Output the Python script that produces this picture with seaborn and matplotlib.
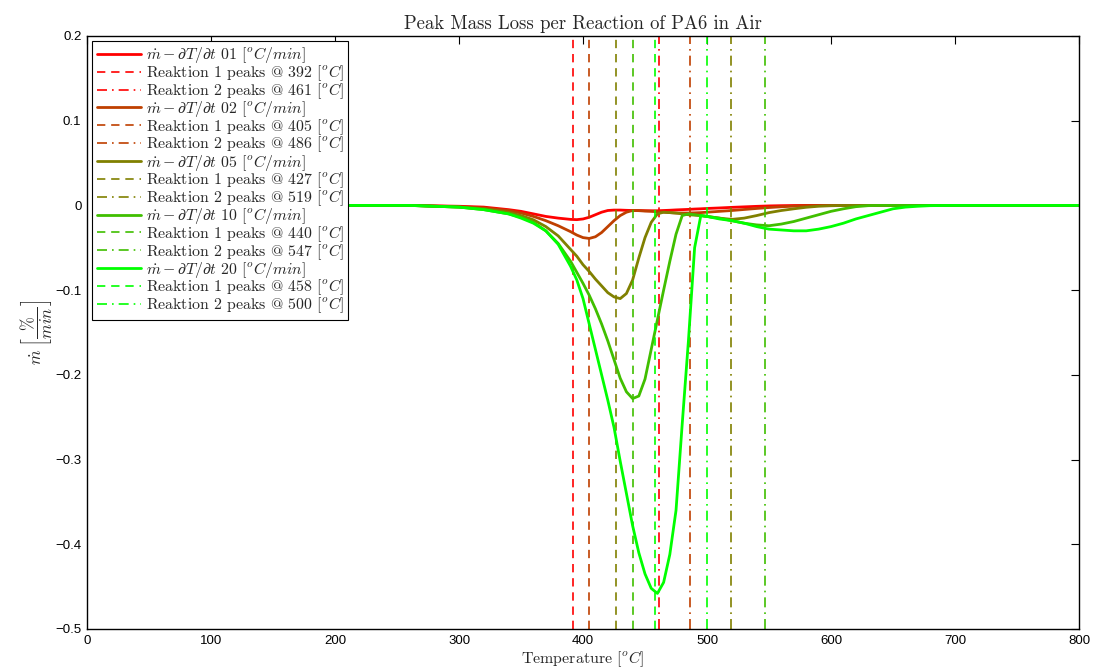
import matplotlib
matplotlib.use("Agg")
import matplotlib.pyplot as plt
from matplotlib.ticker import FuncFormatter, MultipleLocator
import seaborn as sns
import pandas as pd

# temperature grid [oC]
temperature = [200, 260, 300, 320, 340, 350, 360, 370, 380, 390, 395, 400, 405, 410, 415,
               420, 425, 430, 435, 440, 445, 450, 455, 460, 465, 470, 475, 480, 485, 490,
               495, 500, 510, 520, 530, 540, 550, 560, 570, 580, 590, 600, 610, 620, 630,
               640, 650, 660, 670, 680, 700, 750, 800]

# mass loss rate [%/min] per heating rate
rate_01 = [0, 0, -0.001, -0.002, -0.005, -0.007, -0.010, -0.013, -0.015, -0.0165, -0.0168,
           -0.016, -0.014, -0.011, -0.008, -0.006, -0.0055, -0.0055, -0.0058, -0.006, -0.006,
           -0.0062, -0.0063, -0.0063, -0.006, -0.0057, -0.0053, -0.005, -0.0047, -0.0043,
           -0.004, -0.0036, -0.003, -0.0023, -0.0017, -0.0011, -0.0006, -0.0003, -0.0001,
           0, 0, 0, 0, 0, 0, 0, 0, 0, 0, 0, 0, 0, 0]
rate_02 = [0, 0, -0.0015, -0.003, -0.006, -0.009, -0.013, -0.018, -0.024, -0.031, -0.035,
           -0.038, -0.039, -0.037, -0.032, -0.025, -0.018, -0.012, -0.008, -0.006, -0.0062,
           -0.0067, -0.007, -0.0075, -0.008, -0.0085, -0.009, -0.009, -0.009, -0.0088,
           -0.0085, -0.008, -0.007, -0.006, -0.0048, -0.0036, -0.0025, -0.0016, -0.0009,
           -0.0004, -0.0001, 0, 0, 0, 0, 0, 0, 0, 0, 0, 0, 0, 0]
rate_05 = [0, 0, -0.002, -0.004, -0.008, -0.012, -0.017, -0.025, -0.036, -0.052, -0.060,
           -0.070, -0.078, -0.087, -0.095, -0.103, -0.108, -0.110, -0.104, -0.088, -0.062,
           -0.038, -0.020, -0.010, -0.008, -0.0085, -0.009, -0.010, -0.011, -0.0115,
           -0.012, -0.013, -0.015, -0.0165, -0.015, -0.012, -0.0085, -0.006, -0.004,
           -0.0022, -0.001, -0.0004, -0.0001, 0, 0, 0, 0, 0, 0, 0, 0, 0, 0]
rate_10 = [0, 0, -0.002, -0.005, -0.010, -0.014, -0.020, -0.030, -0.045, -0.066, -0.079,
           -0.092, -0.106, -0.122, -0.140, -0.160, -0.182, -0.204, -0.220, -0.228, -0.225,
           -0.205, -0.170, -0.135, -0.100, -0.066, -0.034, -0.012, -0.010, -0.011,
           -0.012, -0.013, -0.015, -0.018, -0.021, -0.023, -0.024, -0.022, -0.019,
           -0.015, -0.011, -0.007, -0.004, -0.0015, -0.0003, 0, 0, 0, 0, 0, 0, 0, 0]
rate_20 = [0, 0, -0.002, -0.005, -0.010, -0.015, -0.021, -0.030, -0.046, -0.072, -0.088,
           -0.110, -0.140, -0.170, -0.200, -0.230, -0.262, -0.302, -0.340, -0.378, -0.410,
           -0.435, -0.452, -0.458, -0.445, -0.412, -0.360, -0.258, -0.160, -0.050,
           -0.012, -0.013, -0.016, -0.018, -0.021, -0.025, -0.028, -0.029, -0.030,
           -0.030, -0.028, -0.025, -0.021, -0.016, -0.012, -0.008, -0.004, -0.002,
           -0.001, -0.0003, 0, 0, 0]

rate_names = ["01", "02", "05", "10", "20"]
peak_r1 = [392, 405, 427, 440, 458]
peak_r2 = [461, 486, 519, 547, 500]
colors = ["#ff0000", "#bf4000", "#808000", "#40bf00", "#00ff00"]

curves = [rate_01, rate_02, rate_05, rate_10, rate_20]

sns.set_theme(style="white")
plt.rcParams["mathtext.fontset"] = "cm"
plt.rcParams["font.family"] = ["Liberation Sans", "DejaVu Sans"]
plt.rcParams["axes.unicode_minus"] = True

serif = ["cmr10", "DejaVu Serif"]

fig = plt.figure(figsize=(10.99, 6.70), dpi=100)
ax = fig.add_axes([0.0792, 0.0612, 0.9026, 0.8851])

for name, vals, r1, r2, c in zip(rate_names, curves, peak_r1, peak_r2, colors):
    df = pd.DataFrame({"T": temperature, "m": vals})
    sns.lineplot(data=df, x="T", y="m", color=c, linewidth=2.0, ax=ax,
                 label=r"$\dot{m} - \partial T/\partial t$ " + name + r" $[^oC/min]$")
    ax.axvline(r1, color=c, linestyle=(0, (5, 3.5)), linewidth=1.2,
               label=f"Reaktion 1 peaks @ {r1} " + r"$[^oC]$")
    ax.axvline(r2, color=c, linestyle=(0, (6, 3, 1, 3)), linewidth=1.2,
               label=f"Reaktion 2 peaks @ {r2} " + r"$[^oC]$")

ax.set_xlim(0, 800)
ax.set_ylim(-0.5, 0.2)
ax.xaxis.set_major_locator(MultipleLocator(100))
ax.yaxis.set_major_locator(MultipleLocator(0.1))
ax.yaxis.set_major_formatter(FuncFormatter(lambda v, p: "0" if abs(v) < 1e-9 else f"{v:.1f}".replace("-", "\u2212")))
ax.tick_params(direction="in", length=6, width=0.8, top=True, right=True,
               labelsize=9.5, colors="black", pad=4)
for s in ax.spines.values():
    s.set_color("black")
    s.set_linewidth(1.0)

ax.set_title("Peak Mass Loss per Reaction of PA6 in Air", family=serif, fontsize=13.5, pad=5)
ax.set_xlabel(r"Temperature $[^oC]$", family=serif, fontsize=11.5, labelpad=2)
ax.set_ylabel(r"$\dot{m}\;\left[\dfrac{\%}{min}\right]$", fontsize=12, labelpad=0)

leg = ax.legend(loc="upper left", prop={"family": serif, "size": 11.4},
                frameon=True, fancybox=False, framealpha=1, edgecolor="black",
                handlelength=2.8, labelspacing=-0.12, borderpad=0.3, handletextpad=0.3,
                borderaxespad=0.3)
leg.get_frame().set_linewidth(0.8)

fig.savefig("out.png", dpi=100)
